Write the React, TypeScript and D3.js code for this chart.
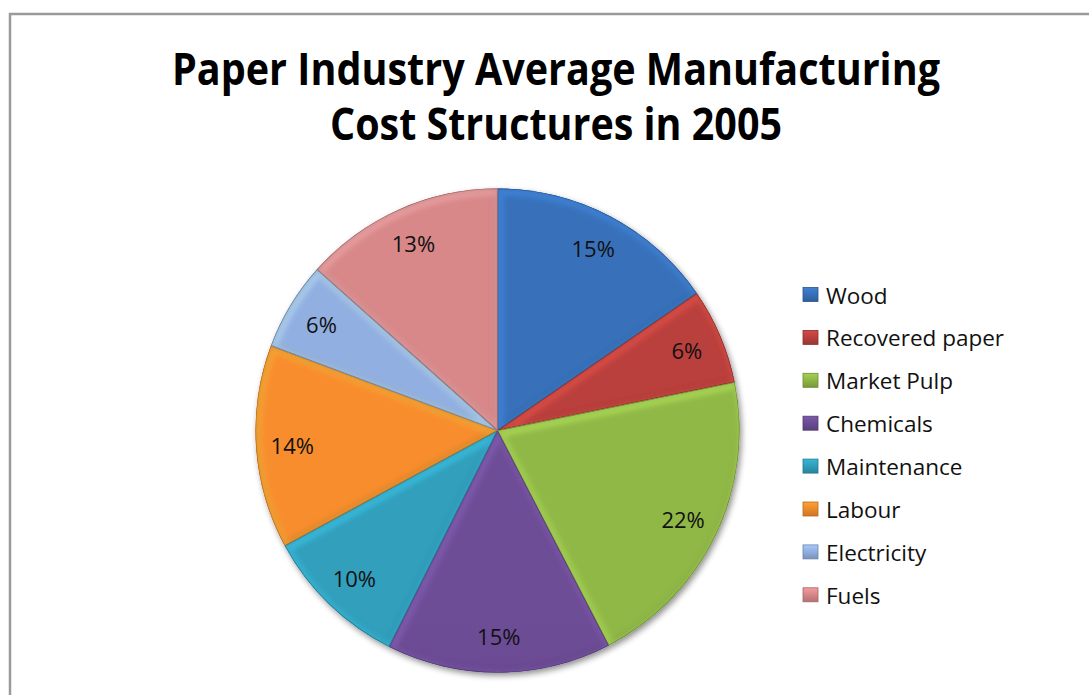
import React from 'react';
import * as d3 from 'd3';

const categories = ['Wood', 'Recovered paper', 'Market Pulp', 'Chemicals', 'Maintenance', 'Labour', 'Electricity', 'Fuels'];
const values = [15.4, 6.4, 20.6, 15.0, 9.7, 13.6, 5.9, 13.4];
const percentLabels = ['15%', '6%', '22%', '15%', '10%', '14%', '6%', '13%'];
const colors = ['#356CB2', '#B23E3B', '#8AB044', '#684A90', '#2E98B4', '#EE872B', '#8CA8D8', '#CF8283'];
const titleLines = ['Paper Industry Average Manufacturing', 'Cost Structures in 2005'];

const W = 1089;
const H = 695;
const cx = 497.5;
const cy = 430.5;
const R = 242;

export default function App() {
  const pie = d3.pie<number>().sort(null).value((d) => d);
  const arcs = pie(values);
  const arc = d3.arc<d3.PieArcDatum<number>>().innerRadius(0).outerRadius(R);
  const labelArc = d3.arc<d3.PieArcDatum<number>>().innerRadius(R * 0.85).outerRadius(R * 0.85);
  const font = "'Open Sans', 'DejaVu Sans', sans-serif";

  const legendY0 = 295;
  const legendStep = 42.9;

  return (
    <svg width={W} height={H} style={{ position: 'absolute', left: 0, top: 0, background: '#fff' }} xmlns="http://www.w3.org/2000/svg">
      <defs>
        <filter id="shadow" x="-20%" y="-20%" width="140%" height="140%">
          <feGaussianBlur in="SourceAlpha" stdDeviation="3" />
          <feOffset dx="2" dy="3" result="ob" />
          <feComponentTransfer>
            <feFuncA type="linear" slope="0.45" />
          </feComponentTransfer>
          <feMerge>
            <feMergeNode />
            <feMergeNode in="SourceGraphic" />
          </feMerge>
        </filter>
        <filter id="soft" x="-10%" y="-10%" width="120%" height="120%">
          <feGaussianBlur stdDeviation="2.5" />
        </filter>
        {colors.map((c, i) => {
          const base = d3.color(c)!;
          return (
            <linearGradient key={i} id={`g${i}`} gradientUnits="userSpaceOnUse" x1={0} y1={cy - R} x2={0} y2={cy + R}>
              <stop offset="0%" stopColor={base.brighter(0.12).formatHex()} />
              <stop offset="100%" stopColor={base.darker(0.3).formatHex()} />
            </linearGradient>
          );
        })}
        {colors.map((c, i) => {
          const base = d3.color(c)!;
          return (
            <linearGradient key={`l${i}`} id={`lg${i}`} x1="0" y1="0" x2="0" y2="1">
              <stop offset="0%" stopColor={base.brighter(0.5).formatHex()} />
              <stop offset="100%" stopColor={base.darker(0.4).formatHex()} />
            </linearGradient>
          );
        })}
        {arcs.map((a, i) => (
          <clipPath key={i} id={`c${i}`}>
            <path d={arc(a) || ''} transform={`translate(${cx},${cy})`} />
          </clipPath>
        ))}
      </defs>

      <rect x={10} y={14} width={W + 20} height={H + 20} fill="#fff" stroke="#9a9a9a" strokeWidth={2.5} />

      {titleLines.map((t, i) => (
        <text
          key={i}
          x={556}
          y={85 + i * 55}
          textAnchor="middle"
          fontFamily={font}
          fontWeight={700}
          fontSize={44}
          fill="#000"
          textLength={i === 0 ? 768 : 452}
          lengthAdjust="spacingAndGlyphs"
        >
          {t}
        </text>
      ))}

      <g filter="url(#shadow)">
        {arcs.map((a, i) => (
          <path key={i} d={arc(a) || ''} transform={`translate(${cx},${cy})`} fill={`url(#g${i})`} />
        ))}
      </g>

      {arcs.map((a, i) => {
        const base = d3.color(colors[i])!;
        return (
          <g key={`b${i}`} clipPath={`url(#c${i})`}>
            <path
              d={arc(a) || ''}
              transform={`translate(${cx},${cy})`}
              fill="none"
              stroke={base.darker(1).formatHex()}
              strokeOpacity={0.6}
              strokeWidth={6}
              filter="url(#soft)"
            />
            <path
              d={arc(a) || ''}
              transform={`translate(${cx + 1.5},${cy + 2})`}
              fill="none"
              stroke={base.brighter(1).formatHex()}
              strokeOpacity={0.5}
              strokeWidth={9}
              filter="url(#soft)"
            />
            <path
              d={arc(a) || ''}
              transform={`translate(${cx},${cy})`}
              fill="none"
              stroke={base.darker(0.8).formatHex()}
              strokeWidth={1.2}
            />
          </g>
        );
      })}

      {arcs.map((a, i) => {
        const [lx, ly] = labelArc.centroid(a);
        return (
          <text
            key={`t${i}`}
            x={cx + lx}
            y={cy + ly}
            textAnchor="middle"
            dominantBaseline="central"
            fontFamily={font}
            fontSize={22}
            fill="#111"
          >
            {percentLabels[i]}
          </text>
        );
      })}

      {categories.map((name, i) => {
        const y = legendY0 + i * legendStep;
        return (
          <g key={`lg${i}`}>
            <rect x={803} y={y - 7.5} width={15} height={14} fill={`url(#lg${i})`} stroke={d3.color(colors[i])!.darker(0.7).formatHex()} strokeWidth={0.8} />
            <text x={826} y={y} dominantBaseline="central" fontFamily={font} fontSize={22.5} fill="#111">
              {name}
            </text>
          </g>
        );
      })}
    </svg>
  );
}
